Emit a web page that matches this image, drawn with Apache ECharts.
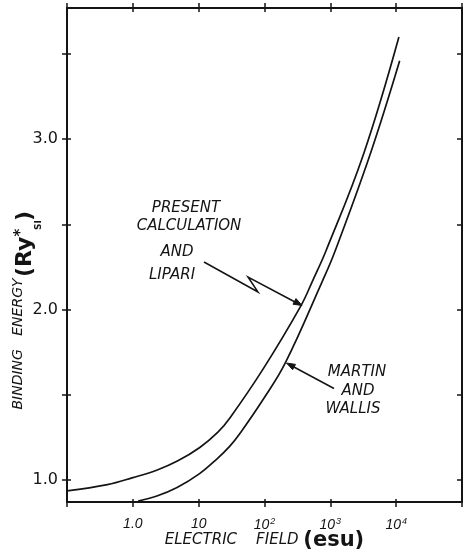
<!DOCTYPE html>
<html><head><meta charset="utf-8">
<script src="https://cdn.jsdelivr.net/npm/echarts@6/dist/echarts.min.js"></script>
<style>html,body{margin:0;padding:0;background:#fff}#c{width:464px;height:557px}</style>
</head><body><div id="c"></div>
<script>
// Present calculation and Lipari
const presentField  = [0.1, 0.41, 1, 2.35, 4.75, 10.4, 19.6, 30, 95, 355, 540, 860, 3180, 11000];
const presentEnergy = [0.935, 0.972, 1.013, 1.058, 1.11, 1.19, 1.28, 1.365, 1.65, 2.02, 2.17, 2.345, 2.91, 3.60];
// Martin and Wallis
const martinField  = [1.2, 2.32, 4.7, 10.2, 19.2, 29.3, 43.7, 94.6, 206, 764, 1146, 4018, 11300];
const martinEnergy = [0.875, 0.905, 0.955, 1.035, 1.125, 1.195, 1.28, 1.47, 1.685, 2.17, 2.33, 2.91, 3.46];
// axes
const xTickValues = [0.1, 1, 10, 100, 1000, 10000, 100000];
const xLabelValues = [1, 10, 100, 1000, 10000];
const xLabelText = ['1.0', '10', '10{sup|2}', '10{sup|3}', '10{sup|4}'];
const yTickValues = [1, 1.5, 2, 2.5, 3, 3.5];
const yLabelValues = [1, 2, 3];

const INK = '#141414';
const FONT = '"DejaVu Sans", sans-serif';
const xMin = 0.1, xMax = 100000, yMin = 0.87, yMax = 3.77;

function pairs(xs, ys) { return xs.map((x, i) => [x, ys[i]]); }

const baseX = {type: 'log', logBase: 10, min: xMin, max: xMax, splitLine: {show: false}, axisLabel: {show: false}};
const baseY = {type: 'value', min: yMin, max: yMax, splitLine: {show: false}, axisLabel: {show: false}};

const chart = echarts.init(document.getElementById('c'), null, {renderer: 'canvas'});
chart.setOption({
  backgroundColor: '#ffffff',
  animation: false,
  grid: {left: 67, top: 8, width: 395, height: 494, containLabel: false, outerBoundsMode: 'none'},
  xAxis: [
    Object.assign({}, baseX, {
      position: 'bottom',
      axisLine: {show: true, lineStyle: {color: INK, width: 2}},
      axisTick: {show: true, inside: false, length: 5, customValues: xTickValues, lineStyle: {color: INK, width: 1.5}},
      axisLabel: {
        show: true, customValues: xLabelValues, margin: 15,
        color: INK, fontFamily: '"Liberation Sans", Arial, sans-serif', fontStyle: 'italic', fontSize: 14,
        formatter: function (v) { return xLabelText[Math.round(Math.log10(v))]; },
        rich: {sup: {fontSize: 9, fontStyle: 'italic', fontFamily: '"Liberation Sans", Arial, sans-serif', color: INK, verticalAlign: 'top', padding: [0, 0, 8, 1]}}
      },
      name: '{i|ELECTRIC    FIELD }{b|(esu)}',
      nameLocation: 'middle', nameGap: 28, nameMoveOverlap: false,
      nameTextStyle: {
        rich: {
          i: {fontFamily: FONT, fontStyle: 'italic', fontSize: 15, color: INK},
          b: {fontFamily: FONT, fontWeight: 'bold', fontSize: 21, color: INK}
        }
      }
    }),
    Object.assign({}, baseX, {
      position: 'bottom', axisLine: {show: false},
      axisTick: {show: true, inside: true, length: 3, customValues: xTickValues, lineStyle: {color: INK, width: 1.5}}
    }),
    Object.assign({}, baseX, {
      position: 'top',
      axisLine: {show: true, lineStyle: {color: INK, width: 2}},
      axisTick: {show: true, inside: false, length: 5, customValues: xTickValues, lineStyle: {color: INK, width: 1.5}}
    }),
    Object.assign({}, baseX, {
      position: 'top', axisLine: {show: false},
      axisTick: {show: true, inside: true, length: 4, customValues: xTickValues, lineStyle: {color: INK, width: 1.5}}
    })
  ],
  yAxis: [
    Object.assign({}, baseY, {
      position: 'left',
      axisLine: {show: true, lineStyle: {color: INK, width: 2}},
      axisTick: {show: true, inside: false, length: 5, customValues: yTickValues, lineStyle: {color: INK, width: 1.5}},
      axisLabel: {
        show: true, customValues: yLabelValues, margin: 9,
        color: INK, fontFamily: FONT, fontSize: 16,
        formatter: function (v) { return Number(v).toFixed(1); }
      }
    }),
    Object.assign({}, baseY, {
      position: 'left', axisLine: {show: false},
      axisTick: {show: true, inside: true, length: 4, customValues: yTickValues, lineStyle: {color: INK, width: 1.5}}
    }),
    Object.assign({}, baseY, {
      position: 'right',
      axisLine: {show: true, lineStyle: {color: INK, width: 2}},
      axisTick: {show: true, inside: true, length: 5, customValues: yTickValues, lineStyle: {color: INK, width: 1.5}}
    })
  ],
  series: [
    {
      name: 'Present calculation and Lipari', type: 'line', xAxisIndex: 0, yAxisIndex: 0,
      data: pairs(presentField, presentEnergy), smooth: 0.4, showSymbol: false, symbol: 'none',
      lineStyle: {color: INK, width: 1.7}
    },
    {
      name: 'Martin and Wallis', type: 'line', xAxisIndex: 0, yAxisIndex: 0,
      data: pairs(martinField, martinEnergy), smooth: 0.4, showSymbol: false, symbol: 'none',
      lineStyle: {color: INK, width: 1.7}
    }
  ],
  graphic: [
    // y axis title
    {type: 'text', x: 18, y: 344, rotation: Math.PI / 2,
      style: {text: 'BINDING   ENERGY', font: 'italic 14px ' + FONT, fill: INK, align: 'center', verticalAlign: 'middle'}},
    {type: 'text', x: 25, y: 244, rotation: Math.PI / 2,
      style: {text: '{b|(Ry}{s|*}{b| )}', align: 'center', verticalAlign: 'middle',
        rich: {
          b: {fontFamily: FONT, fontWeight: 'bold', fontSize: 22, fill: INK},
          s: {fontFamily: FONT, fontWeight: 'bold', fontSize: 15, fill: INK, verticalAlign: 'top'}
        }}},
    {type: 'text', x: 39, y: 225, rotation: Math.PI / 2,
      style: {text: 'SI', font: 'bold 9px ' + FONT, fill: INK, align: 'center', verticalAlign: 'middle'}},
    // annotation: present calculation
    {type: 'text', x: 186, y: 208, style: {text: 'PRESENT', font: 'italic 15px ' + FONT, fill: INK, align: 'center', verticalAlign: 'middle'}},
    {type: 'text', x: 189, y: 226, style: {text: 'CALCULATION', font: 'italic 15px ' + FONT, fill: INK, align: 'center', verticalAlign: 'middle'}},
    {type: 'text', x: 177, y: 252, style: {text: 'AND', font: 'italic 15px ' + FONT, fill: INK, align: 'center', verticalAlign: 'middle'}},
    {type: 'text', x: 172, y: 275, style: {text: 'LIPARI', font: 'italic 15px ' + FONT, fill: INK, align: 'center', verticalAlign: 'middle'}},
    {type: 'polyline', shape: {points: [[204, 262], [258, 292], [248, 277], [295, 302]]},
      style: {stroke: INK, lineWidth: 1.5, fill: null}},
    {type: 'polygon', shape: {points: [[302, 305.5], [293, 304.2], [296, 298.6]]}, style: {fill: INK, stroke: INK, lineWidth: 1}},
    // annotation: Martin and Wallis
    {type: 'text', x: 357, y: 372, style: {text: 'MARTIN', font: 'italic 15px ' + FONT, fill: INK, align: 'center', verticalAlign: 'middle'}},
    {type: 'text', x: 358, y: 391, style: {text: 'AND', font: 'italic 15px ' + FONT, fill: INK, align: 'center', verticalAlign: 'middle'}},
    {type: 'text', x: 353, y: 409, style: {text: 'WALLIS', font: 'italic 15px ' + FONT, fill: INK, align: 'center', verticalAlign: 'middle'}},
    {type: 'polyline', shape: {points: [[334, 388.5], [293, 366.5]]}, style: {stroke: INK, lineWidth: 1.5, fill: null}},
    {type: 'polygon', shape: {points: [[286.5, 363], [295.5, 364.4], [292.6, 369.7]]}, style: {fill: INK, stroke: INK, lineWidth: 1}}
  ]
});
</script>
</body></html>
